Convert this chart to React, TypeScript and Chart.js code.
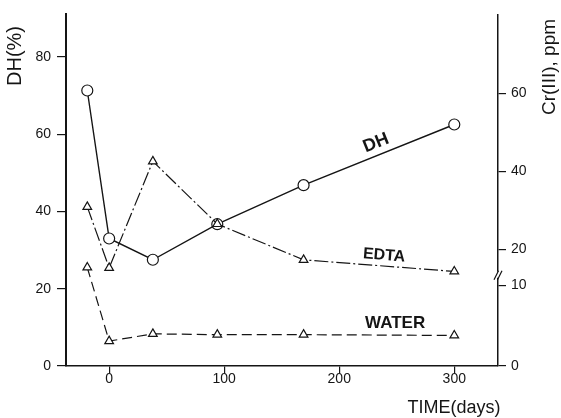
import React, { useEffect, useRef } from 'react';
import { Chart, registerables } from 'chart.js';
Chart.register(...registerables);

// ---- data ----
const days = [-19, 0, 38, 94, 169, 300];
const dhPercent = [71.3, 33.0, 27.5, 36.7, 46.8, 62.5];
const edtaCrPpm = [30.9, 14.9, 42.6, 26.5, 17.1, 13.9];
const waterCrPpm = [15.0, 3.1, 4.0, 3.9, 3.9, 3.8];

const dayTicks = [0, 100, 200, 300];
const dhTicks = [0, 20, 40, 60, 80];
const crTicks = [0, 10, 20, 40, 60];

// broken right axis: ppm breakpoints and where they sit on the DH(%) scale
const crBreakPpm = [0, 10, 20, 60];
const crBreakAt = [0, 20.8, 30.2, 70.5];

function crToAxis(p: number): number {
  for (let i = 1; i < crBreakPpm.length; i++) {
    if (p <= crBreakPpm[i] || i === crBreakPpm.length - 1) {
      const t = (p - crBreakPpm[i - 1]) / (crBreakPpm[i] - crBreakPpm[i - 1]);
      return crBreakAt[i - 1] + t * (crBreakAt[i] - crBreakAt[i - 1]);
    }
  }
  return p;
}

const FONT = "'Liberation Sans', Arial, Helvetica, sans-serif";
const INK = '#151515';

const textPlugin = {
  id: 'textPlugin',
  afterDraw(chart: any) {
    const { ctx } = chart;
    const x = chart.scales.x;
    const y = chart.scales.y;
    const y2 = chart.scales.y2;
    ctx.save();
    ctx.fillStyle = INK;
    ctx.textAlign = 'center';
    ctx.textBaseline = 'middle';

    const drawRot = (txt: string, cx: number, cy: number, ang: number, font: string) => {
      ctx.save();
      ctx.font = font;
      ctx.translate(cx, cy);
      ctx.rotate(ang);
      ctx.fillText(txt, 0, 0);
      ctx.restore();
    };

    // axis titles
    drawRot('DH(%)', 15, 56, -Math.PI / 2, `20px ${FONT}`);
    drawRot('Cr(III), ppm', 550, 67, -Math.PI / 2, `19px ${FONT}`);
    drawRot('TIME(days)', 454, 408, 0, `18px ${FONT}`);

    // series annotations (anchored in data coordinates)
    drawRot('DH', x.getPixelForValue(232), y.getPixelForValue(57.7), -22 * Math.PI / 180, `bold 18px ${FONT}`);
    drawRot('EDTA', x.getPixelForValue(239), y.getPixelForValue(28.6), 4.5 * Math.PI / 180, `bold 16px ${FONT}`);
    drawRot('WATER', x.getPixelForValue(248.6), y.getPixelForValue(11.1), 0, `bold 17px ${FONT}`);

    // break mark on the right axis between 10 and 20 ppm
    const p10 = y2.getPixelForValue(crToAxis(10));
    const p20 = y2.getPixelForValue(crToAxis(20));
    const by = p10 + 0.3 * (p20 - p10);
    const ax = chart.chartArea.right;
    ctx.fillStyle = '#ffffff';
    ctx.fillRect(ax - 2, by - 3, 4, 6);
    ctx.strokeStyle = INK;
    ctx.lineWidth = 1.2;
    ctx.beginPath();
    ctx.moveTo(ax - 4, by + 5);
    ctx.lineTo(ax + 0.5, by - 4);
    ctx.moveTo(ax - 0.5, by + 5);
    ctx.lineTo(ax + 4, by - 4);
    ctx.stroke();
    ctx.restore();
  },
};

export default function App() {
  const ref = useRef<HTMLCanvasElement | null>(null);

  useEffect(() => {
    if (!ref.current) return;
    const pts = (ys: number[]) => days.map((d, i) => ({ x: d, y: ys[i] }));
    const chart = new Chart(ref.current, {
      type: 'line',
      data: {
        datasets: [
          {
            label: 'WATER',
            data: pts(waterCrPpm.map(crToAxis)),
            yAxisID: 'y2',
            borderColor: INK,
            borderWidth: 1.2,
            borderDash: [10, 5],
            pointStyle: 'triangle',
            pointRadius: 5,
            pointBackgroundColor: '#fff',
            pointBorderColor: INK,
            pointBorderWidth: 1.2,
          },
          {
            label: 'EDTA',
            data: pts(edtaCrPpm.map(crToAxis)),
            yAxisID: 'y2',
            borderColor: INK,
            borderWidth: 1.2,
            borderDash: [14, 3, 2, 3],
            pointStyle: 'triangle',
            pointRadius: 5,
            pointBackgroundColor: '#fff',
            pointBorderColor: INK,
            pointBorderWidth: 1.2,
          },
          {
            label: 'DH',
            data: pts(dhPercent),
            yAxisID: 'y',
            borderColor: INK,
            borderWidth: 1.4,
            pointStyle: 'circle',
            pointRadius: 5.5,
            pointBackgroundColor: '#fff',
            pointBorderColor: INK,
            pointBorderWidth: 1.2,
          },
        ],
      },
      options: {
        responsive: false,
        animation: false,
        layout: { padding: { top: 11, left: 0, right: 0, bottom: 0 } },
        plugins: { legend: { display: false }, tooltip: { enabled: false } },
        scales: {
          x: {
            type: 'linear',
            min: -37.5,
            max: 338,
            afterBuildTicks: (s: any) => { s.ticks = dayTicks.map((v) => ({ value: v })); },
            afterFit: (s: any) => { s.height = 52; },
            grid: { drawOnChartArea: false, drawTicks: true, tickLength: 7, color: INK, lineWidth: 1.2 },
            border: { display: true, color: INK, width: 1.5 },
            ticks: { color: INK, padding: -2, maxRotation: 0, font: { family: FONT, size: 14 } },
          },
          y: {
            type: 'linear',
            position: 'left',
            min: 0,
            max: 91,
            afterBuildTicks: (s: any) => { s.ticks = dhTicks.map((v) => ({ value: v })); },
            afterFit: (s: any) => { s.width = 66; },
            grid: { drawOnChartArea: false, drawTicks: true, tickLength: 9, color: INK, lineWidth: 1.2 },
            border: { display: true, color: INK, width: 2 },
            ticks: { color: INK, padding: 6, font: { family: FONT, size: 14 } },
          },
          y2: {
            type: 'linear',
            position: 'right',
            min: 0,
            max: 91,
            afterBuildTicks: (s: any) => { s.ticks = crTicks.map((v) => ({ value: crToAxis(v) })); },
            afterFit: (s: any) => { s.width = 63; },
            grid: { drawOnChartArea: false, drawTicks: true, tickLength: 8, color: INK, lineWidth: 1.2 },
            border: { display: true, color: INK, width: 1.5 },
            ticks: {
              color: INK,
              padding: 5,
              font: { family: FONT, size: 14 },
              callback: (_v: any, i: number) => String(crTicks[i]),
            },
          },
        },
      },
      plugins: [textPlugin],
    });
    return () => chart.destroy();
  }, []);

  return (
    <div style={{ position: 'fixed', left: 0, top: 0, width: 561, height: 418, background: '#fff' }}>
      <canvas ref={ref} width={561} height={418} />
    </div>
  );
}
